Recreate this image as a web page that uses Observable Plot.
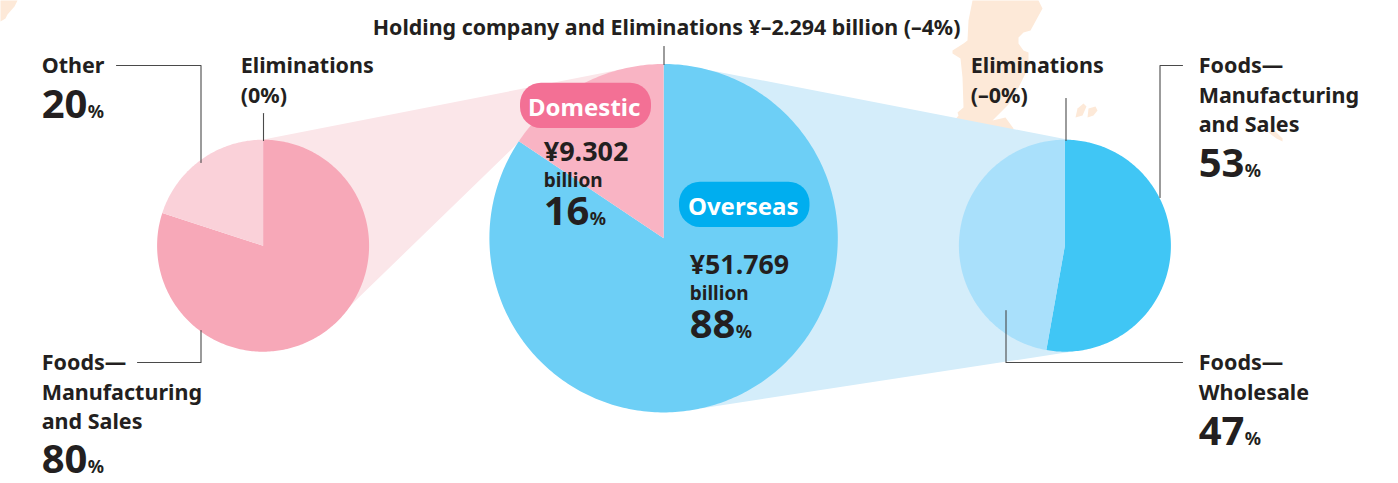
<!DOCTYPE html>
<html>
<head>
<meta charset="utf-8">
<script src="https://cdn.jsdelivr.net/npm/d3@7"></script>
<script src="https://cdn.jsdelivr.net/npm/@observablehq/plot@0.6"></script>
<style>
html,body{margin:0;padding:0;background:#fff;}
svg{display:block;}
</style>
</head>
<body>
<div id="chart"></div>
<script>
// ---- data ----
const regionCategories = ["Overseas", "Domestic"];
const regionShares = [84.4, 15.6];           // drawn angle, clockwise from 12 o'clock
const domesticCategories = ["Foods—Manufacturing and Sales", "Other"];
const domesticShares = [80, 20];
const overseasCategories = ["Foods—Manufacturing and Sales", "Foods—Wholesale"];
const overseasShares = [52.8, 47.2];

// ---- background map (decoration) ----
const mapMainland = [[972,0],[968,20],[967,40],[963,43],[952,50],[952,53],[960,58],[962,77],[963,107],[957,112],[958,115],[950,125],[1010,140],[1013,128],[1005,117],[992,120],[1007,105],[1013,97],[1028,67],[1028,52],[1023,50],[1018,43],[1018,37],[1023,32],[1030,30],[1042,8],[1038,0]];
const mapIslandA = [[1075,117],[1077,108],[1083,103],[1086,106],[1082,115]];
const mapIslandB = [[1087,117],[1088,108],[1095,106],[1097,110],[1093,115]];
const mapIslandC = [[1268,132],[1274,130],[1282,138],[1282,141],[1276,138]];
const mapCorner = [[0,0],[17,0],[14,6],[7,14],[5,18],[0,21]];

// ---- style and layout ----
const ink = "#231f20", lead = "#4a4a4a";
const pies = {
  center: {cx: 663.1, cy: 237.7, r: 174.2, colors: ["#6dcff6", "#f9b4c4"]},
  left:   {cx: 262.6, cy: 245.2, r: 106,   colors: ["#f7a8b8", "#fad1d9"]},
  right:  {cx: 1064.4, cy: 245.2, r: 106,  colors: ["#40c6f5", "#a9e0fb"]}
};

function slices(shares, pie) {
  const total = d3.sum(shares);
  let acc = 0;
  return shares.map((s, i) => {
    const a0 = acc / total * 2 * Math.PI;
    acc += s;
    const a1 = acc / total * 2 * Math.PI;
    const n = Math.max(2, Math.ceil((a1 - a0) * 60));
    const pts = [[pie.cx, pie.cy]];
    for (let k = 0; k <= n; k++) {
      const a = a0 + (a1 - a0) * k / n;
      pts.push([pie.cx + pie.r * Math.sin(a), pie.cy - pie.r * Math.cos(a)]);
    }
    return {pts, fill: pie.colors[i]};
  });
}
const shape = (pts, fill) => Plot.line(pts, {x: d => d[0], y: d => d[1], fill, stroke: "none", curve: "linear"});
const sliceMarks = (shares, pie) => slices(shares, pie).map(s => shape(s.pts, s.fill));
const leader = (pts) => Plot.line(pts, {x: d => d[0], y: d => d[1], stroke: lead, strokeWidth: 1.1, curve: "linear"});

// Zoom bands tie the pies together
const bandPink = [[263,139],[625,68],[519,141],[350,305]];
const bandBlue = [[690,66],[1072,140],[1072,351],[700,408]];

const W = "Noto Sans";
const label = (text, x, y, size, opts = {}) =>
  Plot.text([text], {x: () => x - 1.8, y: () => y, text: d => d, fontSize: size, fontWeight: 700, fontFamily: W,
    fill: ink, textAnchor: "start", lineAnchor: "middle", ...opts});
const pct = (num, x, y, pctDx) => [
  label(num, x, y, 40, {}),
  label("%", x + pctDx, y + 7, 18, {})
];
const SZ = 21.5;

const chart = Plot.plot({
  width: 1398, height: 483,
  marginTop: 0, marginRight: 0, marginBottom: 0, marginLeft: 0,
  x: {domain: [0, 1398], range: [0, 1398], axis: null},
  y: {domain: [0, 483], range: [0, 483], axis: null},
  style: {background: "transparent", overflow: "visible"},
  marks: [
    shape(mapMainland, "#fde9d8"), shape(mapIslandA, "#fde9d8"), shape(mapIslandB, "#fde9d8"),
    shape(mapIslandC, "#fde9d8"), shape(mapCorner, "#fde9d8"),
    shape(bandPink, "#fbe6e9"),
    shape(bandBlue, "#d4edfa"),
    ...sliceMarks(regionShares, pies.center),
    ...sliceMarks(domesticShares, pies.left),
    ...sliceMarks(overseasShares, pies.right),
    // leaders
    leader([[116,65],[200.5,65],[200.5,162]]),
    leader([[263,113],[263,140]]),
    leader([[137,362],[200.5,362],[200.5,330]]),
    leader([[663.5,46],[663.5,64]]),
    leader([[1065.5,98],[1065.5,140]]),
    leader([[1182,65],[1159.5,65],[1159.5,197]]),
    leader([[1182,362],[1005.5,362],[1005.5,310]]),
    // pills
    Plot.rect([0], {x1: () => 520, x2: () => 651, y1: () => 82.7, y2: () => 128, fill: "#f37095", rx: 21}),
    Plot.rect([0], {x1: () => 679, x2: () => 809.5, y1: () => 181.7, y2: () => 227, fill: "#00aeef", rx: 21}),
    label("Domestic", 585.5, 107.5, 24, {fill: "#fff", textAnchor: "middle"}),
    label("Overseas", 744.5, 206.5, 24, {fill: "#fff", textAnchor: "middle"}),
    // top label
    label("Holding company and Eliminations ¥–2.294 billion (–4%)", 374, 28, 21.39),
    // left labels
    label("Other", 43, 66, SZ),
    ...pct("20", 43, 105, 46),
    label("Eliminations", 242, 66, SZ),
    label("(0%)", 242, 95.5, SZ),
    label("Foods—", 43, 363, SZ),
    label("Manufacturing", 43, 393, SZ),
    label("and Sales", 43, 422, SZ),
    ...pct("80", 43, 459.8, 46),
    // domestic
    label("¥9.302", 545, 151.5, 27),
    label("billion", 545, 180, 19),
    ...pct("16", 545, 212, 46),
    // overseas
    label("¥51.769", 691, 264.5, 26.8),
    label("billion", 691, 293, 19),
    ...pct("88", 691, 325, 46),
    // right labels
    label("Eliminations", 972, 66, SZ),
    label("(–0%)", 972, 95.5, SZ),
    label("Foods—", 1200, 66, SZ),
    label("Manufacturing", 1200, 95.5, SZ),
    label("and Sales", 1200, 125, SZ),
    ...pct("53", 1200, 164, 46),
    label("Foods—", 1200, 363, SZ),
    label("Wholesale", 1200, 393, SZ),
    ...pct("47", 1200, 432, 46)
  ]
});
document.getElementById("chart").appendChild(chart);
</script>
</body>
</html>
